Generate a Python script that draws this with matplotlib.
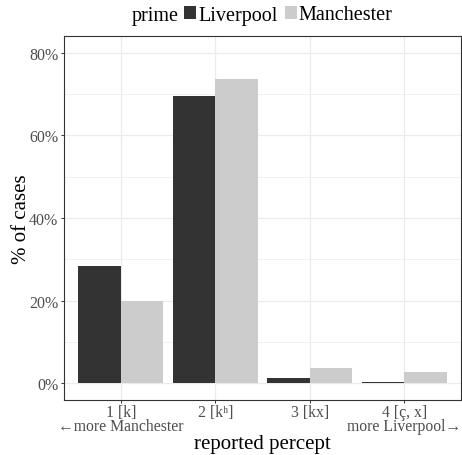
import matplotlib
matplotlib.use('Agg')
import matplotlib.pyplot as plt
from matplotlib.patches import Patch
import numpy as np

categories = ['1 [k]\n\u2190more Manchester', '2 [k\u02b0]\n', '3 [kx]\n', '4 [\u00e7, x]\nmore Liverpool\u2192']
liverpool = [28.5, 69.6, 1.4, 0.4]
manchester = [19.9, 73.7, 3.7, 2.7]
yticks = [0, 20, 40, 60, 80]
yticklabels = ['0%', '20%', '40%', '60%', '80%']

fonts = ['Liberation Serif', 'DejaVu Serif', 'DejaVu Sans']
plt.rcParams['font.family'] = fonts

dark = '#333333'
light = '#CCCCCC'
grid = '#EBEBEB'

fig = plt.figure(figsize=(4.62, 4.56), dpi=100)
ax = fig.add_axes([64 / 462, 1 - 401 / 456, 397 / 462, 364 / 456])

x = np.arange(1, len(categories) + 1)
w = 0.45
ax.bar(x - w / 2, liverpool, width=w, color=dark, zorder=3)
ax.bar(x + w / 2, manchester, width=w, color=light, zorder=3)

ax.set_xlim(0.4, 4.6)
ax.set_ylim(-4, 84)
ax.set_xticks(x)
ax.set_xticklabels(categories, fontsize=11.3, color='#4D4D4D', linespacing=0.85)
ax.set_yticks(yticks)
ax.set_yticklabels(yticklabels, fontsize=11.5, color='#4D4D4D')
ax.set_yticks([10, 30, 50, 70], minor=True)
ax.tick_params(axis='both', which='major', length=2.5, width=0.7, color=dark, pad=1.5)
ax.tick_params(axis='x', which='major', pad=0.5)
ax.tick_params(axis='y', which='minor', length=0)
ax.grid(True, which='major', color=grid, linewidth=0.9, zorder=0)
ax.grid(True, which='minor', axis='y', color=grid, linewidth=0.5, zorder=0)
ax.set_axisbelow(True)
for s in ax.spines.values():
    s.set_color(dark)
    s.set_linewidth(0.8)

ax.set_xlabel('reported percept', fontsize=15, va='center')
ax.xaxis.set_label_coords(0.5, (401 - 445) / 364)
ax.set_ylabel('% of cases', fontsize=15, va='center')
ax.yaxis.set_label_coords((22 - 64) / 397, 0.5)

# legend across the top: "prime" title followed by keys
fig.canvas.draw()
r = fig.canvas.get_renderer()
t = fig.text(132 / 462, 1 - 16 / 456, 'prime', fontsize=14.5, ha='left', va='center')
tb = t.get_window_extent(renderer=r)
handles = [Patch(facecolor=dark), Patch(facecolor=light)]
fig.legend(handles, ['Liverpool', 'Manchester'], ncol=2, loc='center left',
           bbox_to_anchor=((tb.x1 + 5) / 462, 1 - 16 / 456), frameon=False,
           fontsize=14.5, handlelength=0.6, handleheight=0.6, handletextpad=0.1,
           columnspacing=0.35, borderpad=0, borderaxespad=0)

fig.savefig('out.png', dpi=100)
